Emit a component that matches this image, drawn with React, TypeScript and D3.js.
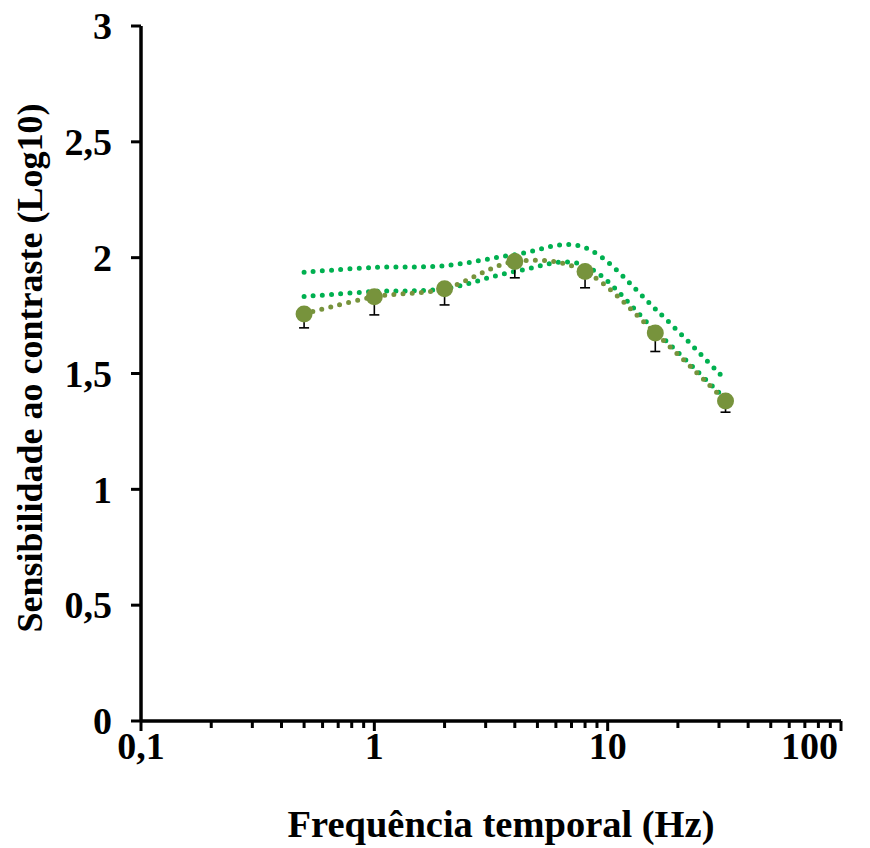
import React from "react";
import * as d3 from "d3";

const freq = [0.5, 1, 2, 4, 8, 16, 32];
const meanSens = [1.757, 1.831, 1.866, 1.983, 1.94, 1.675, 1.381];
const errMinus = [0.06, 0.078, 0.07, 0.07, 0.07, 0.08, 0.048];
const upperNorm = [1.937, 1.958, 1.965, 2.013, 2.043, 1.779, 1.472];
const lowerNorm = [1.832, 1.854, 1.866, 1.94, 1.965, 1.685, 1.39];
const yTicks = [0, 0.5, 1, 1.5, 2, 2.5, 3];
const yTickLabels = ["0", "0,5", "1", "1,5", "2", "2,5", "3"];
const xMajor = [0.1, 1, 10, 100];
const xMajorLabels = ["0,1", "1", "10", "100"];

const W = 870;
const H = 848;
const FONT = "'Liberation Serif', 'Times New Roman', serif";
const OLIVE = "#77933C";
const GREEN = "#00B050";

export default function App() {
  const x = d3.scaleLog().domain([0.1, 100]).range([141, 841]);
  const y = d3.scaleLinear().domain([0, 3]).range([721, 26]);

  const line = d3
    .line<[number, number]>()
    .x((d) => x(d[0]))
    .y((d) => y(d[1]))
    .curve(d3.curveCardinal.tension(0));

  const mk = (vals: number[]) => line(freq.map((f, i) => [f, vals[i]] as [number, number])) || "";

  const minor: number[] = [];
  for (let dec = 0.1; dec < 100; dec *= 10) {
    for (let k = 2; k <= 9; k++) minor.push(+(dec * k).toPrecision(3));
  }

  const dotStyle = { strokeWidth: 5, strokeDasharray: "0 9.2", strokeLinecap: "round" as const, fill: "none" };

  return (
    <svg width={W} height={H} style={{ position: "absolute", left: 0, top: 0, background: "#fff" }}>
      {/* axes */}
      <g stroke="#000" strokeWidth={3.5}>
        <line x1={x(0.1)} x2={x(0.1)} y1={y(3)} y2={y(0)} />
        <line x1={x(0.1)} x2={x(100)} y1={y(0)} y2={y(0)} />
        {yTicks.map((t) => (
          <line key={"yt" + t} x1={x(0.1) - 10} x2={x(0.1)} y1={y(t)} y2={y(t)} strokeWidth={3} />
        ))}
        {xMajor.map((t) => (
          <line key={"xM" + t} x1={x(t)} x2={x(t)} y1={y(0)} y2={y(0) + 10} strokeWidth={3} />
        ))}
        {minor.map((t) => (
          <line key={"xm" + t} x1={x(t)} x2={x(t)} y1={y(0)} y2={y(0) + 7} strokeWidth={3} />
        ))}
      </g>
      <g fontFamily={FONT} fontWeight="bold" fontSize={38} fill="#000">
        {yTicks.map((t, i) => (
          <text key={"yl" + t} x={112} y={y(t)} dy="0.35em" textAnchor="end">
            {yTickLabels[i]}
          </text>
        ))}
        {xMajor.map((t, i) => {
          const last = i === xMajor.length - 1;
          return (
            <text key={"xl" + t} x={last ? 838 : x(t)} y={759} textAnchor={last ? "end" : "middle"}>
              {xMajorLabels[i]}
            </text>
          );
        })}
      </g>
      <text x={501} y={837} textAnchor="middle" fontFamily={FONT} fontWeight="bold" fontSize={38.5}>
        Frequência temporal (Hz)
      </text>
      <text
        transform={`translate(42, 368) rotate(-90)`}
        textAnchor="middle"
        fontFamily={FONT}
        fontWeight="bold"
        fontSize={36}
      >
        Sensibilidade ao contraste (Log10)
      </text>

      {/* normative bounds */}
      <path d={mk(upperNorm)} stroke={GREEN} {...dotStyle} />
      <path d={mk(lowerNorm)} stroke={GREEN} {...dotStyle} />

      {/* mean series */}
      <path d={mk(meanSens)} stroke={OLIVE} {...dotStyle} />
      <g stroke="#000" strokeWidth={1.6}>
        {freq.map((f, i) => (
          <g key={"eb" + f}>
            <line x1={x(f)} x2={x(f)} y1={y(meanSens[i])} y2={y(meanSens[i] - errMinus[i])} />
            <line x1={x(f) - 5} x2={x(f) + 5} y1={y(meanSens[i] - errMinus[i])} y2={y(meanSens[i] - errMinus[i])} />
          </g>
        ))}
      </g>
      {freq.map((f, i) => (
        <circle key={"pt" + f} cx={x(f)} cy={y(meanSens[i])} r={8.5} fill={OLIVE} />
      ))}
    </svg>
  );
}
